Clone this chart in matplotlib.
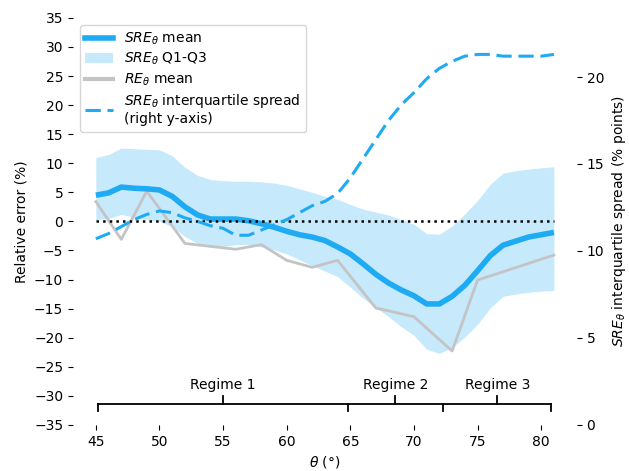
import numpy as np
import matplotlib.pyplot as plt
from matplotlib.patches import Patch
from matplotlib.lines import Line2D

# angle grid (degrees)
theta = np.arange(45, 82)

# SRE_theta statistics per angle (%)
sre_mean = [4.5, 4.9, 5.9, 5.7, 5.6, 5.4, 4.3, 2.5, 1.1, 0.4, 0.4, 0.4, 0.1, -0.4, -1.0, -1.7,
            -2.3, -2.7, -3.3, -4.4, -5.6, -7.3, -9.1, -10.6, -11.8, -12.8, -14.2, -14.2, -12.9,
            -11.0, -8.5, -5.9, -4.1, -3.4, -2.7, -2.3, -1.9]
sre_q3 = [11.0, 11.5, 12.6, 12.5, 12.4, 12.3, 11.3, 9.3, 7.9, 7.2, 7.0, 6.9, 6.9, 6.8, 6.6, 6.2,
          5.6, 5.0, 4.3, 3.8, 2.9, 2.1, 1.6, 1.1, 0.3, -0.5, -2.1, -2.2, -0.8, 1.3, 3.6, 6.4,
          8.3, 8.7, 9.0, 9.2, 9.4]
sre_q1 = [0.3, 0.5, 1.2, 0.7, 0.3, 0.0, -0.9, -2.6, -3.8, -4.25, -4.3, -4.0, -4.0, -4.4, -4.9,
          -5.6, -6.6, -7.6, -8.55, -9.5, -11.3, -13.2, -14.8, -16.4, -18.1, -19.6, -22.0, -22.7,
          -21.7, -19.9, -17.7, -14.9, -12.9, -12.5, -12.2, -12.0, -11.9]
sre_iqr = [10.7, 11.0, 11.4, 11.8, 12.1, 12.3, 12.2, 11.9, 11.7, 11.45, 11.3, 10.9, 10.9, 11.2,
           11.5, 11.8, 12.2, 12.6, 12.85, 13.3, 14.2, 15.3, 16.4, 17.5, 18.4, 19.1, 19.9, 20.5,
           20.9, 21.2, 21.3, 21.3, 21.2, 21.2, 21.2, 21.2, 21.3]

# RE_theta mean (%)
re_theta = [45, 47, 49, 52, 54, 56, 58, 60, 62, 64, 67, 70, 73, 75, 81]
re_mean = [3.4, -3.1, 5.2, -3.8, -4.3, -4.8, -4.0, -6.7, -7.9, -6.7, -14.9, -16.4, -22.3, -10.1, -5.8]

# regimes
regime_names = ["Regime 1", "Regime 2", "Regime 3"]
regime_edges = [45.2, 64.8, 72.3, 80.8]

blue = "#1eabf3"
grey = "#c4c4c4"
dash = (5.0, 2.2)

fig, ax = plt.subplots(figsize=(6.29, 4.71), dpi=100)
fig.subplots_adjust(left=0.116, right=0.917, top=0.962, bottom=0.098)
ax2 = ax.twinx()

ax.fill_between(theta, sre_q1, sre_q3, color=blue, alpha=0.25, lw=0)
ax.plot(re_theta, re_mean, color=grey, lw=2)
ax.plot(theta, sre_mean, color=blue, lw=4, solid_capstyle="butt")
ax.hlines(0, theta[0], theta[-1], colors="k", linestyles=":", lw=1.8)
ax2.plot(theta, sre_iqr, color=blue, lw=2.2, ls="--", dashes=dash)

# regime bracket
y0, yd, yu = -31.4, -32.7, -30.1
ax.plot([regime_edges[0], regime_edges[-1]], [y0, y0], color="k", lw=1.3, clip_on=False)
for e in regime_edges:
    ax.plot([e, e], [y0, yd], color="k", lw=1.3, clip_on=False)
for i, name in enumerate(regime_names):
    mid = (regime_edges[i] + regime_edges[i + 1]) / 2
    ax.plot([mid, mid], [y0, yu], color="k", lw=1.3, clip_on=False)
    ax.text(mid, -29.4, name, ha="center", va="bottom", fontsize=10)

ax.set_ylim(-35, 35)
ax.set_yticks(np.arange(-35, 36, 5))
ax.set_xticks([45, 50, 55, 60, 65, 70, 75, 80])
ax2.set_ylim(0, 23.4)
ax2.set_yticks([0, 5, 10, 15, 20])
ax.set_xlim(43.2, 82.8)

for a in (ax, ax2):
    for s in a.spines.values():
        s.set_visible(False)

ax.set_xlabel(r"$\theta$ (°)")
ax.set_ylabel("Relative error (%)")
ax2.set_ylabel(r"$SRE_\theta$ interquartile spread (% points)")

handles = [
    Line2D([], [], color=blue, lw=4),
    Patch(facecolor=blue, alpha=0.25, lw=0),
    Line2D([], [], color=grey, lw=3),
    Line2D([], [], color=blue, lw=2.2, ls="--", dashes=dash),
]
labels = [r"$SRE_\theta$ mean", r"$SRE_\theta$ Q1-Q3", r"$RE_\theta$ mean",
          r"$SRE_\theta$ interquartile spread" + "\n(right y-axis)"]
ax2.legend(handles, labels, loc="upper left", handlelength=2, labelspacing=0.3)

fig.savefig("out.png", dpi=100)
